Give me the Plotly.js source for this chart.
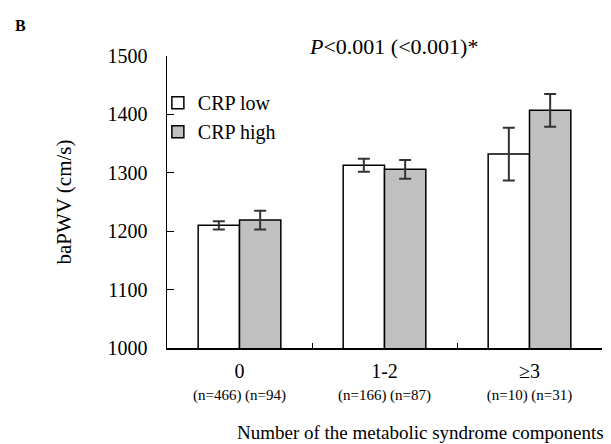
<!DOCTYPE html>
<html>
<head>
<meta charset="utf-8">
<script src="https://cdn.plot.ly/plotly-3.0.1.min.js"></script>
<style>html,body{margin:0;padding:0;background:#fff;}#chart{width:611px;height:444px;}</style>
</head>
<body>
<div id="chart"></div>
<script>
const categories = ["0", "1-2", "≥3"];
const nLow = [466, 166, 10];
const nHigh = [94, 87, 31];
const lowValues = [1210, 1313, 1332];
const lowErrors = [7, 11, 45];
const highValues = [1219, 1306, 1407];
const highErrors = [16, 16, 28];
const yTicks = [1000, 1100, 1200, 1300, 1400, 1500];

const font = "'Liberation Serif', 'Times New Roman', serif";
const tickText = categories.map((c, i) =>
  "<span style='font-size:20px'>" + c + "</span><br><span style='font-size:15px'>(n=" + nLow[i] + ") (n=" + nHigh[i] + ")</span>");

const errStyle = {type: 'data', visible: true, color: '#333333', thickness: 2, width: 6};

const traces = [
  {type: 'bar', name: 'CRP low', x: categories, y: lowValues,
   error_y: Object.assign({array: lowErrors}, errStyle),
   marker: {color: '#ffffff', line: {color: '#000000', width: 1.5}}},
  {type: 'bar', name: 'CRP high', x: categories, y: highValues,
   error_y: Object.assign({array: highErrors}, errStyle),
   marker: {color: '#c0c0c0', line: {color: '#000000', width: 1.5}}}
];

const layout = {
  width: 611, height: 444,
  margin: {l: 167, r: 9, t: 56, b: 96},
  paper_bgcolor: '#fff', plot_bgcolor: '#fff',
  font: {family: font, size: 20, color: '#000'},
  barmode: 'group', bargap: 0.43, bargroupgap: 0,
  showlegend: true,
  legend: {x: -0.021, y: 0.907, xanchor: 'left', yanchor: 'top', bgcolor: 'rgba(0,0,0,0)',
           font: {family: font, size: 20}, itemwidth: 30},
  xaxis: {
    type: 'category', tickson: 'boundaries', ticks: 'inside', ticklen: 5, tickcolor: '#000',
    tickvals: categories, ticktext: tickText,
    showline: true, linecolor: '#000', linewidth: 1.5, showgrid: false, zeroline: false,
    tickfont: {family: font, size: 17},
    ticklabelstandoff: 8
  },
  yaxis: {
    range: [1000, 1500], tickvals: yTicks, ticks: 'inside', ticklen: 7, tickcolor: '#000',
    showline: true, linecolor: '#000', linewidth: 1.5, showgrid: false, zeroline: false,
    ticklabelstandoff: 14,
    tickfont: {family: font, size: 20},
    title: {text: 'baPWV (cm/s)', font: {family: font, size: 21}, standoff: 30}
  },
  annotations: [
    {text: '<b>B</b>', xref: 'paper', yref: 'paper', x: -0.354, y: 1.106, xanchor: 'left', yanchor: 'middle',
     showarrow: false, font: {family: font, size: 16}},
    {text: '<i>P</i><0.001 (<0.001)*', xref: 'paper', yref: 'paper', x: 0.52, y: 1.034, xanchor: 'center', yanchor: 'middle',
     showarrow: false, font: {family: font, size: 22}},
    {text: 'Number of the metabolic syndrome components', xref: 'paper', yref: 'paper', x: 0.582, y: -0.288,
     xanchor: 'center', yanchor: 'middle', showarrow: false, font: {family: font, size: 19}}
  ]
};

Plotly.newPlot('chart', traces, layout, {displayModeBar: false, staticPlot: true});
</script>
</body>
</html>
